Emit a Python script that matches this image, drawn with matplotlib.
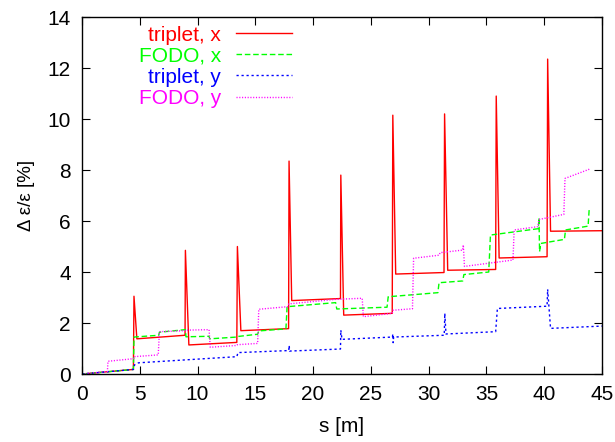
import matplotlib
matplotlib.use("Agg")
import matplotlib.pyplot as plt

# data (s in m, emittance growth in %)
s_trip_x = [0, 4.45, 4.5, 4.75, 8.92, 8.95, 9.25, 13.4, 13.45, 13.75, 17.88, 17.92, 18.15,
            22.37, 22.4, 22.65, 26.85, 26.9, 27.15, 31.33, 31.38, 31.65, 35.8, 35.85, 36.1,
            40.25, 40.3, 40.55, 45]
v_trip_x = [0, 0.18, 3.05, 1.38, 1.52, 4.85, 1.14, 1.24, 5.0, 1.7, 1.78, 8.35, 2.88,
            2.96, 7.8, 2.31, 2.38, 10.15, 3.92, 3.98, 10.2, 4.07, 4.1, 10.9, 4.55,
            4.6, 12.35, 5.6, 5.62]

s_fodo_x = [0, 4.45, 4.5, 6.65, 6.7, 8.95, 9.0, 11.0, 11.05, 13.4, 13.45, 15.2, 15.3,
            17.65, 17.75, 21.95, 22.05, 26.4, 26.5, 30.8, 30.9, 32.95, 33.05, 35.2, 35.35,
            39.5, 39.55, 39.6, 39.7, 41.75, 41.85, 43.8, 43.9]
v_fodo_x = [0, 0.18, 1.45, 1.52, 1.64, 1.74, 1.46, 1.48, 1.38, 1.45, 1.47, 1.56, 1.69,
            1.77, 2.64, 2.8, 2.55, 2.62, 3.03, 3.19, 3.58, 3.65, 3.9, 4.0, 5.45,
            5.7, 6.12, 4.8, 5.12, 5.28, 5.65, 5.8, 6.5]

s_trip_y = [0, 4.45, 4.55, 4.9, 13.4, 13.5, 17.9, 17.93, 17.97, 22.37, 22.4, 22.5,
            26.87, 26.9, 26.93, 26.97, 31.35, 31.4, 31.5, 35.8, 35.95, 40.25, 40.3, 40.55, 45]
v_trip_y = [0, 0.18, 0.36, 0.44, 0.68, 0.84, 0.92, 1.12, 0.9, 0.98, 1.72, 1.36,
            1.45, 1.57, 1.23, 1.45, 1.52, 2.38, 1.57, 1.66, 2.57, 2.66, 3.32, 1.79, 1.88]

s_fodo_y = [0, 2.2, 2.25, 4.45, 4.5, 6.6, 6.7, 8.95, 9.0, 11.0, 11.1, 13.4, 13.45, 15.2,
            15.3, 17.8, 17.9, 22.0, 24.25, 24.35, 26.85, 26.9, 28.6, 28.7, 30.9, 31.0,
            32.95, 33.0, 33.1, 37.3, 37.4, 39.45, 39.55, 41.7, 41.8, 43.9]
v_fodo_y = [0, 0.1, 0.5, 0.6, 0.68, 0.75, 1.66, 1.7, 1.72, 1.74, 1.05, 1.12, 1.15, 1.2,
            2.54, 2.64, 2.75, 2.93, 2.97, 2.25, 2.38, 2.5, 2.56, 4.54, 4.66, 4.76,
            4.86, 5.06, 4.22, 4.47, 5.65, 5.78, 6.06, 6.26, 7.67, 8.03]

plt.rcParams["font.family"] = ["Liberation Sans", "DejaVu Sans"]
plt.rcParams["font.size"] = 15

fig = plt.figure(figsize=(6.15, 4.42), dpi=100)
ax = fig.add_axes([0.1333, 0.1538, 0.8455, 0.8077])

lw = 1.0
ax.plot(s_trip_x, v_trip_x, color="#ff0000", lw=lw, label="triplet, x")
ax.plot(s_fodo_x, v_fodo_x, color="#00ff00", lw=lw, dashes=(4, 2), label="FODO, x")
ax.plot(s_trip_y, v_trip_y, color="#0000ff", lw=lw, dashes=(1.6, 2), label="triplet, y")
ax.plot(s_fodo_y, v_fodo_y, color="#ff00ff", lw=lw, dashes=(0.8, 1.2), label="FODO, y")

ax.set_xlim(0, 45)
ax.set_ylim(0, 14)
ax.set_xticks(range(0, 46, 5))
ax.set_yticks(range(0, 15, 2))
ax.tick_params(direction="in", length=6, width=0.8, top=True, right=True, pad=8)
for sp in ax.spines.values():
    sp.set_linewidth(1.0)

ax.set_xlabel("s [m]", labelpad=9)
ax.set_ylabel("Δ ε/ε [%]", fontsize=13.5, labelpad=9)

leg = ax.legend(loc="upper right", bbox_to_anchor=(0.4045, 0.976), frameon=False,
                markerfirst=False, labelcolor="linecolor", handlelength=2.72,
                handletextpad=0.69, labelspacing=0.1, borderpad=0, borderaxespad=0)

fig.savefig("out.png", dpi=100)
